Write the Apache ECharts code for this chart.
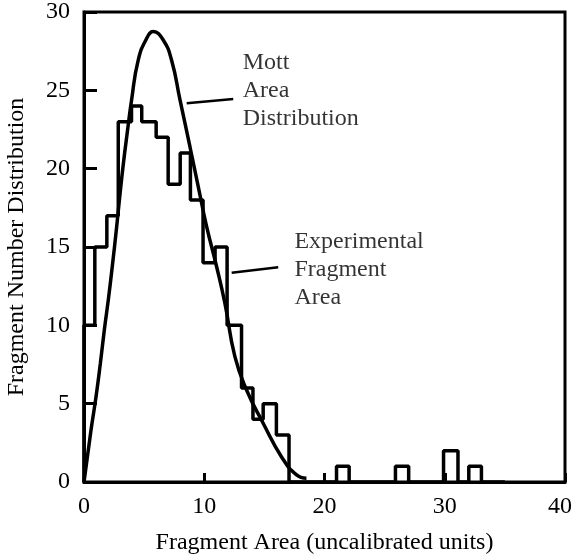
<!DOCTYPE html>
<html>
<head>
<meta charset="utf-8">
<script src="https://cdn.jsdelivr.net/npm/echarts@6/dist/echarts.min.js"></script>
<style>html,body{margin:0;padding:0;background:#fff}#c{width:575px;height:558px}</style>
</head>
<body>
<div id="c"></div>
<script>
// Histogram (experimental fragment area): bin edges and counts
const binEdges = [0, 0.9, 1.9, 2.85, 3.95, 4.8, 6.0, 7.0, 8.0, 8.85, 9.9, 10.9, 11.9, 13.1, 14.05, 14.9, 16.0, 17.05, 21.0, 22.05, 25.9, 27.0, 29.9, 31.1, 32.0, 33.05, 35.0];
const binCounts = [10, 15, 17, 23, 24, 23, 22, 19, 21, 18, 14, 15, 10, 6, 4, 5, 3, 0, 1, 0, 1, 0, 2, 0, 1, 0];

// Mott area distribution curve
const mottX = [0, 0.58, 1.0, 1.36, 1.69, 2.05, 2.38, 2.69, 2.97, 3.27, 3.63, 3.96, 4.5, 5.2, 5.76, 6.6, 7.29, 7.98, 8.81, 9.5, 10.2, 11.03, 11.72, 12.55, 13.52, 14.9, 16.43, 17.68, 18.5];
const mottY = [0, 3.3, 5.44, 7.57, 9.7, 11.8, 13.95, 16.1, 18.2, 20.3, 22.5, 24.4, 26.9, 28.3, 28.75, 28.2, 26.9, 24.4, 21.4, 18.85, 16.3, 13.74, 11.4, 8.0, 5.87, 3.75, 1.6, 0.45, 0.24];

// Annotations
const mottLabel = ['Mott', 'Area', 'Distribution'];
const mottLabelAt = [13.2, 24.95];
const mottLeader = [[8.54, 24.17], [12.41, 24.44]];
const expLabel = ['Experimental', 'Fragment', 'Area'];
const expLabelAt = [17.5, 13.55];
const expLeader = [[12.28, 13.36], [16.15, 13.7]];

const xTitle = 'Fragment Area (uncalibrated units)';
const yTitle = 'Fragment Number Distribution';

const histPts = [[binEdges[0], 0]];
for (let i = 0; i < binCounts.length; i++) {
  histPts.push([binEdges[i], binCounts[i]]);
  histPts.push([binEdges[i + 1], binCounts[i]]);
}
const mottPts = mottX.map((x, i) => [x, mottY[i]]);

const FONT = '"Liberation Serif", "Times New Roman", serif';
const FS = 24;
const chart = echarts.init(document.getElementById('c'), null, {renderer: 'canvas'});
const labelStyle = {
  show: true, position: 'right', distance: 0, color: '#000',
  fontFamily: FONT, fontSize: FS, lineHeight: 28, align: 'left', verticalAlign: 'middle'
};
chart.setOption({
  animation: false,
  backgroundColor: '#fff',
  grid: {left: 84, right: 10, top: 12, bottom: 76, show: true, borderColor: '#000', borderWidth: 3, containLabel: false, outerBoundsMode: 'none'},
  xAxis: {
    type: 'value', min: 0, max: 40, interval: 10,
    name: xTitle, nameLocation: 'middle', nameGap: 49,
    nameTextStyle: {fontFamily: FONT, fontSize: FS, color: '#000'},
    axisLine: {lineStyle: {color: '#000', width: 3}},
    axisTick: {inside: true, length: 9, lineStyle: {color: '#000', width: 3}},
    axisLabel: {
      fontFamily: FONT, fontSize: FS, color: '#000', margin: 13,
      formatter: v => v === 40 ? '{r|' + v + '}' : String(v),
      rich: {r: {fontFamily: FONT, fontSize: FS, color: '#000', padding: [0, 10, 0, 0]}}
    },
    splitLine: {show: false}
  },
  yAxis: {
    type: 'value', min: 0, max: 30, interval: 5,
    name: yTitle, nameLocation: 'middle', nameGap: 55, nameRotate: 90,
    nameTextStyle: {fontFamily: FONT, fontSize: FS, color: '#000'},
    axisLine: {lineStyle: {color: '#000', width: 3}},
    axisTick: {inside: true, length: 13, lineStyle: {color: '#000', width: 3}},
    axisLabel: {fontFamily: FONT, fontSize: FS, color: '#000', margin: 14},
    splitLine: {show: false}
  },
  series: [
    {type: 'line', data: histPts, symbol: 'none', lineStyle: {color: '#000', width: 3.5}, z: 3},
    {type: 'line', data: mottPts, symbol: 'none', smooth: 0.5, lineStyle: {color: '#000', width: 3.5}, z: 4},
    {type: 'line', data: mottLeader, symbol: 'none', lineStyle: {color: '#000', width: 2.5}},
    {type: 'line', data: expLeader, symbol: 'none', lineStyle: {color: '#000', width: 2.5}},
    {type: 'scatter', symbolSize: 0, data: [mottLabelAt], label: Object.assign({}, labelStyle, {formatter: mottLabel.join('\n')})},
    {type: 'scatter', symbolSize: 0, data: [expLabelAt], label: Object.assign({}, labelStyle, {formatter: expLabel.join('\n')})}
  ]
});
</script>
</body>
</html>
